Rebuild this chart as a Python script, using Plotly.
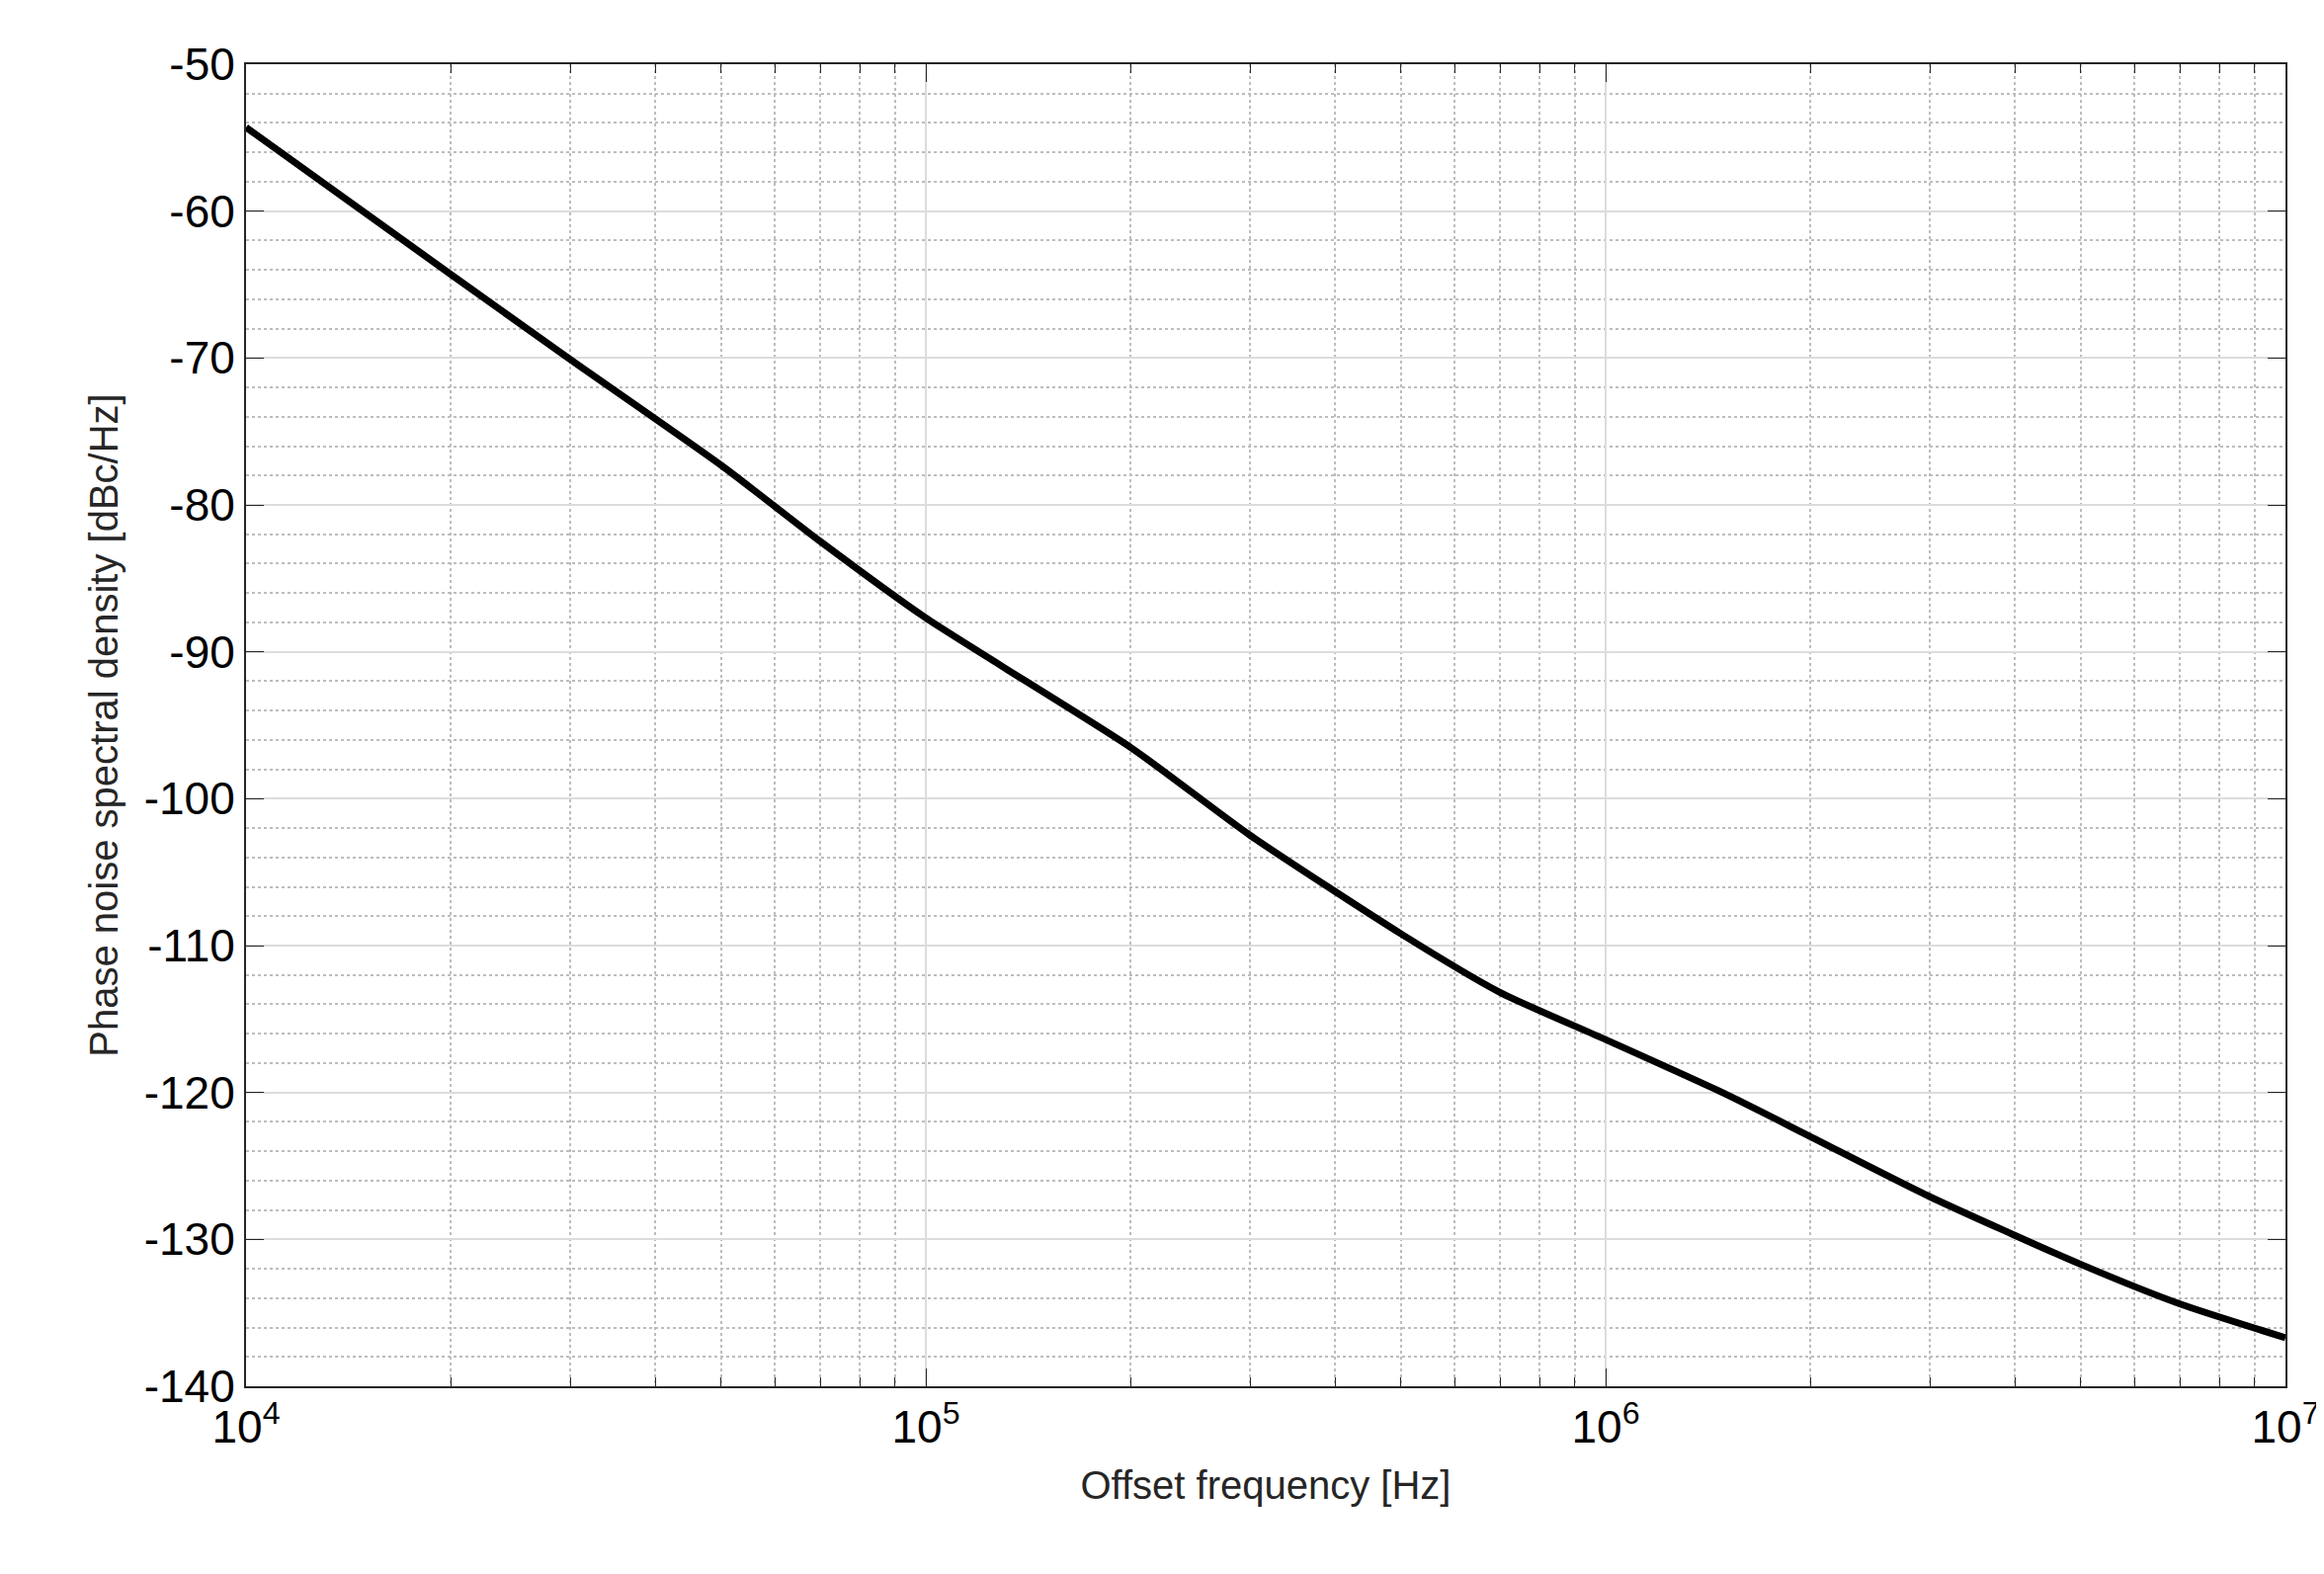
import plotly.graph_objects as go

# phase noise
freq_hz = [1e4, 2e4, 3e4, 5e4, 7e4, 1e5, 2e5, 3e5, 5e5, 7e5, 1e6, 1.5e6, 2e6, 3e6, 5e6, 7e6, 1e7]
pn_dbc = [-54.3, -64.3, -70.1, -77.3, -82.5, -87.7, -96.5, -102.5, -109.2, -113.2,
          -116.4, -120.1, -123.0, -127.1, -131.7, -134.4, -136.7]

x_ticks = [1e4, 1e5, 1e6, 1e7]
x_labels = ['10<sup>4</sup>', '10<sup>5</sup>', '10<sup>6</sup>', '10<sup>7</sup>']
x_minor = [m * 10 ** d for d in (4, 5, 6) for m in range(2, 10)]
y_ticks = list(range(-140, -49, 10))
y_labels = [str(v) for v in y_ticks]
y_minor = [v for v in range(-140, -49, 2) if v % 10]

fig = go.Figure(go.Scatter(x=freq_hz, y=pn_dbc, mode='lines',
                           line=dict(color='black', width=7, shape='spline', smoothing=0.6)))

axis_common = dict(showline=True, linecolor='#262626', linewidth=2, mirror='ticks',
                   ticks='inside', ticklen=18, tickcolor='#262626',
                   gridcolor='#dcdcdc', gridwidth=1.5, zeroline=False,
                   tickfont=dict(size=46, color='black'))

fig.update_layout(
    width=2352, height=1593,
    plot_bgcolor='white', paper_bgcolor='white',
    font=dict(family='Liberation Sans, Arial', color='#262626'),
    margin=dict(l=241, r=42, t=57, b=198),
    showlegend=False,
    xaxis=dict(type='log', range=[4, 7], tickvals=x_ticks, ticktext=x_labels,
               title=dict(text='Offset frequency [Hz]', font=dict(size=40), standoff=20),
               minor=dict(tickvals=x_minor, ticks='inside', ticklen=9, tickcolor='#262626',
                          showgrid=True, gridcolor='#bdbdbd', griddash='dot', gridwidth=1.5),
               **axis_common),
    yaxis=dict(range=[-140, -50], tickvals=y_ticks, ticktext=y_labels,
               title=dict(text='Phase noise spectral density [dBc/Hz]', font=dict(size=40), standoff=14),
               minor=dict(tickvals=y_minor, ticks='', showgrid=True,
                          gridcolor='#bdbdbd', griddash='dot', gridwidth=1.5),
               **axis_common),
)

fig.write_html('out.html')
